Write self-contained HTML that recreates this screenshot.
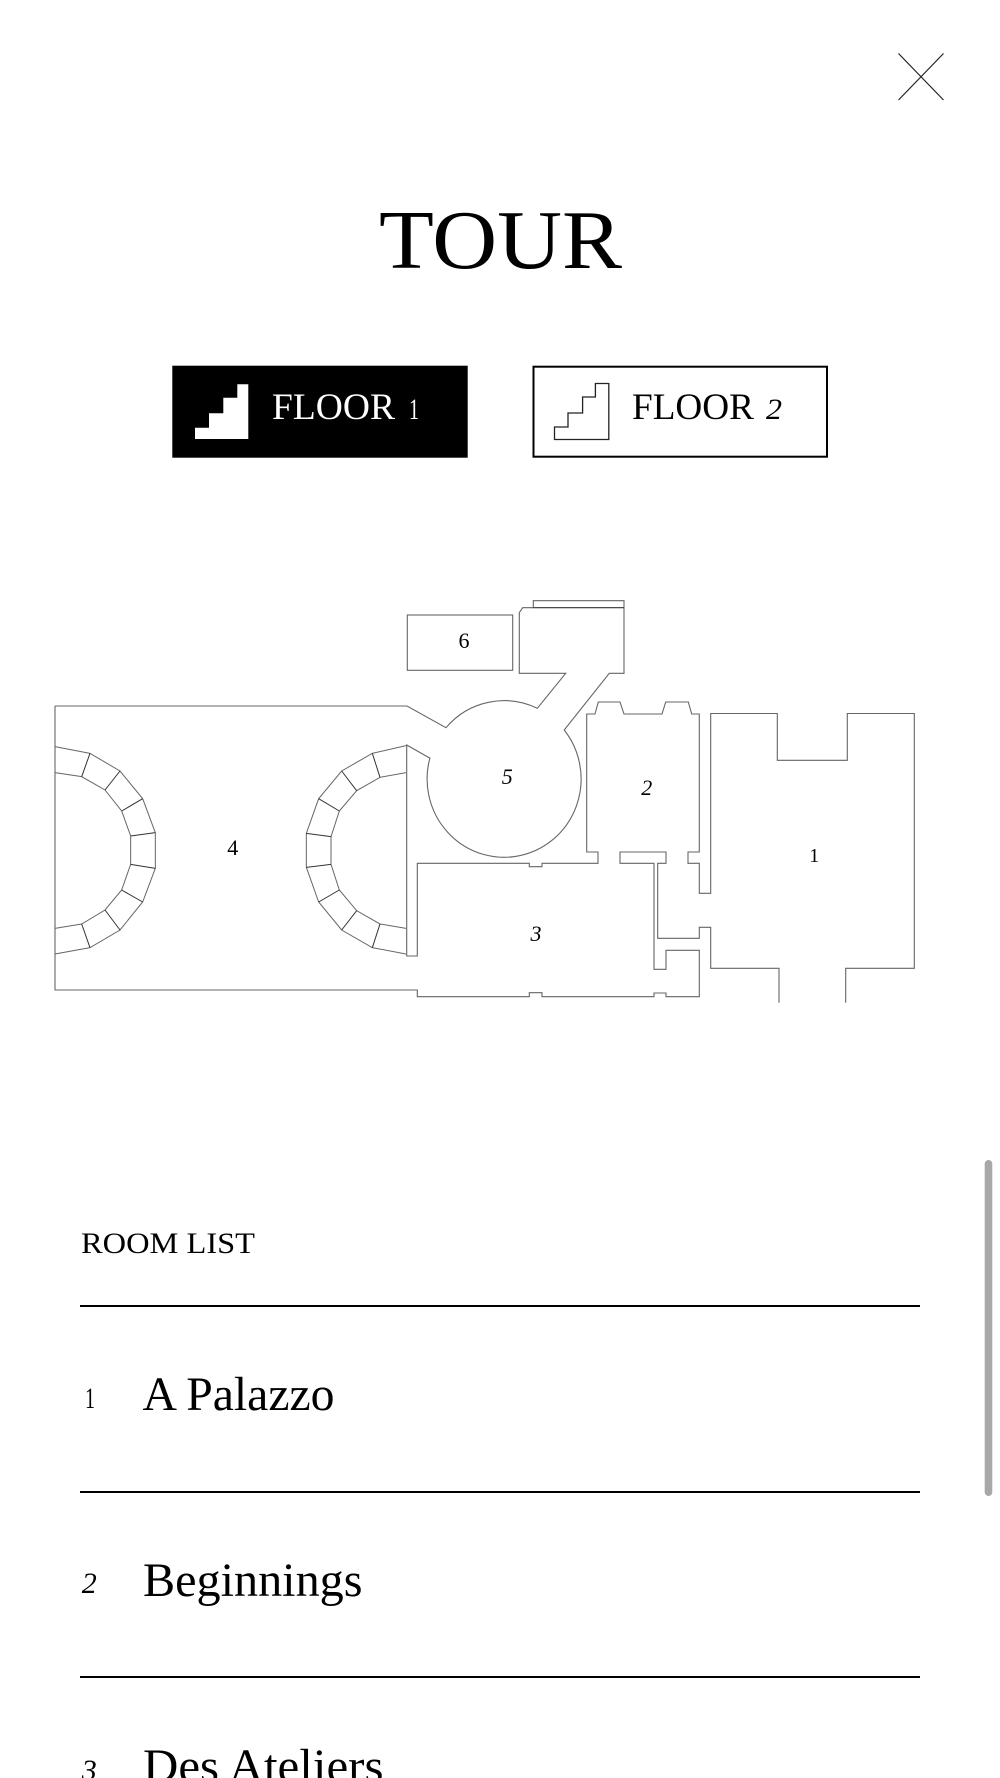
<!DOCTYPE html>
<html lang="en">
<head>
<meta charset="utf-8">
<title>Tour</title>
<style>
html,body{margin:0;padding:0;background:#fff;width:1000px;height:1778px;overflow:hidden}
svg{display:block}
text{font-family:"Liberation Serif",serif;fill:#000}
</style>
</head>
<body>
<svg xmlns="http://www.w3.org/2000/svg" width="1000" height="1778" viewBox="0 0 1000 1778">
<rect width="1000" height="1778" fill="#fff"/>

<!-- close -->
<path d="M898.5 53.5L943.5 100M943.5 53.5L898.5 100" fill="none" stroke="#222" stroke-width="1.2"/>

<!-- title -->
<text x="379" y="268" font-size="84" textLength="243" lengthAdjust="spacingAndGlyphs">TOUR</text>

<!-- floor buttons -->
<rect x="172.3" y="365.7" width="295.4" height="92" fill="#000"/>
<path d="M195 439V427.7H209V413.3H223.3V397.7H237.3V384.3H248.3V439Z" fill="#fff"/>
<text x="272" y="419" font-size="37" textLength="123" lengthAdjust="spacingAndGlyphs" style="fill:#fff">FLOOR</text>
<text x="409" y="419" font-size="30" textLength="10" lengthAdjust="spacingAndGlyphs" style="fill:#fff">1</text>

<rect x="533.5" y="366.7" width="293.5" height="90" fill="#fff" stroke="#000" stroke-width="2"/>
<path d="M554.5 439.5V427H568V413H582.6V397H595.4V383.5H608.8V439.5Z" fill="none" stroke="#222" stroke-width="1.3"/>
<text x="632" y="419" font-size="37" textLength="122" lengthAdjust="spacingAndGlyphs">FLOOR</text>
<text x="766" y="419" font-size="30" font-style="italic" textLength="16" lengthAdjust="spacingAndGlyphs">2</text>

<!-- floor plan outline -->
<path d="M55 706H407L446 727.7A77 78.3 0 0 1 537.3 708.3L565.7 673.3H519.3V612.7L522.7 607.7H533.3V600.7H624V673.3H609.3L564.2 730A77 78.3 0 1 1 429.9 758.1L406.7 745V956H417.3V863.3H529.3V866.7H542V863.3H598V852H586.7V714H595L598.3 702H620L624 714H662L665.7 702H688.3L691.7 714H699.3V852H688V863.3H699.3V893.3H710.7V713.5H777.3V760.3H847.3V713.5H914.3V968.3H845.7V1002.7" fill="none" stroke="#666" stroke-width="1.1"/>
<path d="M779 1002.7V968.3H710.7V927.3H699.3V938.3H657.7V863.3H666V852H620V863.3H654V969.3H666V950.3H699.3V996.7H666V993H654V996.7H542V992.7H529.3V996.7H417.3V990H55V706" fill="none" stroke="#666" stroke-width="1.1"/>
<path d="M533.3 607.7H624" stroke="#333" stroke-width="1.2" fill="none"/>
<rect x="407.3" y="615" width="105.4" height="55.3" fill="none" stroke="#666" stroke-width="1.1"/>

<!-- arches -->
<g transform="translate(30 580) scale(.33333)" fill="none" stroke="#666" stroke-width="3">
<polyline points="75,500 180,520 270,573 338,656 376,758 376,865 338,966 270,1050 180,1103 75,1122"/>
<polyline points="75,578 155,590 225,630 275,693 302,768 302,853 275,930 225,990 155,1032 75,1045"/>
<polyline points="1128,497 1027,520 935,573 866,656 829,760 829,862 866,966 935,1050 1027,1103 1128,1122"/>
<polyline points="1128,578 1050,592 980,632 928,693 903,770 903,853 928,930 980,992 1050,1032 1128,1045"/>
<path stroke="#333" d="M180 520L155 590M270 573L225 630M338 656L275 693M376 758L302 768M376 865L302 853M338 966L275 930M270 1050L225 990M180 1103L155 1032M1027 520L1050 592M935 573L980 632M866 656L928 693M829 760L903 770M829 862L903 853M866 966L928 930M935 1050L980 992M1027 1103L1050 1032"/>
</g>

<!-- room numbers -->
<g font-size="22" text-anchor="middle">
<text x="232.7" y="855">4</text>
<text x="507.3" y="784" font-style="italic">5</text>
<text x="464" y="648">6</text>
<text x="646.7" y="795" font-style="italic">2</text>
<text x="536" y="941" font-style="italic">3</text>
<text x="814.3" y="862" font-size="20">1</text>
</g>

<!-- room list -->
<text x="81" y="1253" font-size="30" textLength="174" lengthAdjust="spacingAndGlyphs">ROOM LIST</text>
<rect x="80" y="1305" width="840" height="2"/>
<text x="85" y="1408" font-size="30" textLength="10" lengthAdjust="spacingAndGlyphs">1</text>
<text x="142.5" y="1410" font-size="48" textLength="192" lengthAdjust="spacingAndGlyphs">A Palazzo</text>
<rect x="80" y="1491" width="840" height="2"/>
<text x="81.7" y="1593" font-size="30" font-style="italic" textLength="15" lengthAdjust="spacingAndGlyphs">2</text>
<text x="143" y="1596" font-size="48" textLength="219.5" lengthAdjust="spacingAndGlyphs">Beginnings</text>
<rect x="80" y="1676" width="840" height="2"/>
<text x="81.7" y="1780" font-size="30" font-style="italic" textLength="15" lengthAdjust="spacingAndGlyphs">3</text>
<text x="143" y="1782" font-size="48" textLength="240.5" lengthAdjust="spacingAndGlyphs">Des Ateliers</text>

<!-- scrollbar -->
<rect x="984.7" y="1160" width="7.6" height="336" rx="3.8" fill="#a8a8a8"/>
</svg>
</body>
</html>
